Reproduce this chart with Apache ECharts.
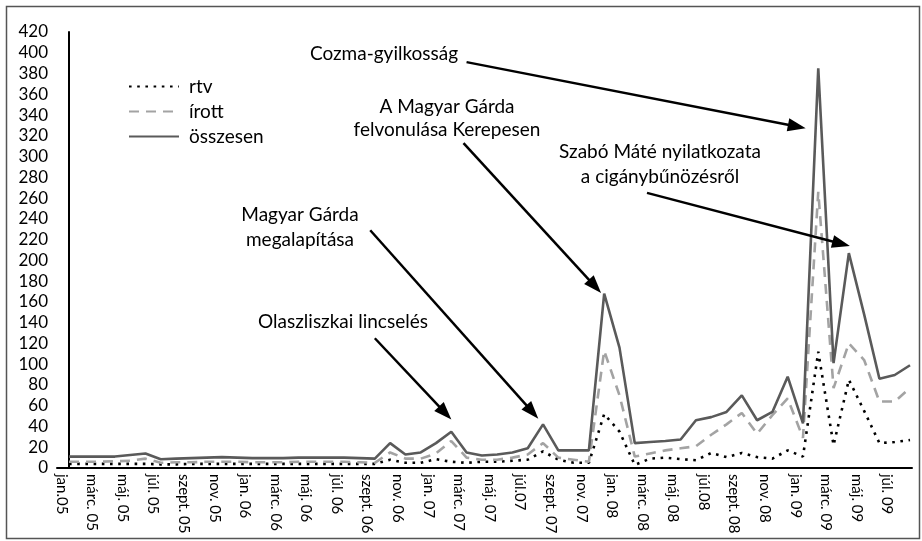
<!DOCTYPE html>
<html><head><meta charset="utf-8">
<script src="https://cdn.jsdelivr.net/npm/echarts@6/dist/echarts.min.js"></script>
<style>html,body{margin:0;padding:0;background:#fff}#c{width:922px;height:541px}</style>
</head><body><div id="c"></div>
<script>
const months = ['jan.05','febr.05','márc. 05','ápr.05','máj. 05','jún.05','júl. 05','aug.05','szept. 05','okt.05','nov. 05','dec.05',
'jan. 06','febr.06','márc. 06','ápr.06','máj. 06','jún.06','júl. 06','aug.06','szept. 06','okt.06','nov. 06','dec.06',
'jan. 07','febr.07','márc. 07','ápr.07','máj. 07','jún.07','júl.07','aug.07','szept. 07','okt.07','nov. 07','dec.07',
'jan. 08','febr.08','márc. 08','ápr.08','máj. 08','jún.08','júl.08','aug.08','szept. 08','okt.08','nov. 08','dec.08',
'jan. 09','febr.09','márc. 09','ápr.09','máj. 09','jún.09','júl. 09','aug.09'];
const rtv = [4,4,4,4,4,4,3.5,3.5,4,4,4,4,4,4,4,4,4,4,4,4,4,
  8,5,5,8.5,6,5,6,6,7,8,
  16,8,5,5,52,35,3,9,10,8.5,
  7.5,14.5,10.5,14.5,10.5,9,17,11,112,22,
  85,55,24,25,27];
const irott = [6,6,6,6.5,7,9,5,5.5,5.5,6,6,6,5.5,5.5,5.5,6,6,6,6,5.5,5,
  15,9,9,14,26,10,8,8,10,13,
  24,10,8,6,113,70,11,14,17,19,
  21,32,42,53,33,51,67,29,266,77,
  120,104,64,64,77];
const osszesen = [11,11,11,11,12.5,14,8.5,9,9.5,10,10.5,10,9.5,9.5,9.5,10,10,10,10,9.5,9,
  24,13,15,24,35,15,12,13,15,19,
  42,17,17,17,168,116,24,25,26,27.5,
  46,49,54,70,46,54,88,43,385,101,
  207,148,86,89.6,99];
const seriesNames = ['rtv','írott','összesen'];
const labelIdx = [];
for (let i = 0; i < months.length; i += 2) labelIdx.push(i);
// annotation arrows in data coordinates [monthIndex, value]
const arrows = [
  [[26.0,391],[47.6,329]],
  [[37.8,265],[50.5,216]],
  [[25.8,313],[34.4,175]],
  [[19.7,229],[30.3,54]],
  [[20.0,125],[24.6,53]]
];
const notes = [
  {t:'Cozma-gyilkosság', x:384, y:54},
  {t:'A Magyar Gárda', x:447, y:107},
  {t:'felvonulása Kerepesen', x:447, y:130},
  {t:'Szabó Máté nyilatkozata', x:660, y:152},
  {t:'a cigánybűnözésről', x:660, y:177},
  {t:'Magyar Gárda', x:300, y:215},
  {t:'megalapítása', x:300, y:240},
  {t:'Olaszliszkai lincselés', x:343, y:322}
];
const FONT = 'Lato, "Open Sans", sans-serif';
const toXY = arr => arr.map((v,i)=>[i,v]);
const chart = echarts.init(document.getElementById('c'), null, {renderer:'canvas'});
chart.setOption({
  animation:false,
  textStyle:{fontFamily:FONT},
  grid:{left:57,right:10,top:32,bottom:73,containLabel:false},
  legend:{
    orient:'vertical', left:123, top:72, itemWidth:50, itemHeight:14, itemGap:6,
    data:seriesNames,
    itemStyle:{opacity:0},
    textStyle:{fontFamily:FONT,fontSize:19,color:'#000',padding:[0,0,0,5]}
  },
  xAxis:{
    type:'value', min:-0.785, max:55.13,
    axisLine:{show:true,lineStyle:{color:'#000',width:2}},
    axisTick:{show:false},
    splitLine:{show:false},
    axisLabel:{
      customValues:labelIdx, rotate:-90, margin:6, verticalAlign:'top',
      fontFamily:FONT, fontSize:15, color:'#000',
      formatter:v=>months[Math.round(v)]||''
    }
  },
  yAxis:{
    type:'value', min:0, max:420, interval:20,
    axisLine:{show:true,lineStyle:{color:'#000',width:2}},
    axisTick:{show:false},
    splitLine:{show:false},
    axisLabel:{fontFamily:FONT,fontSize:17,color:'#000',margin:9}
  },
  series:[
    {name:'rtv', type:'line', data:toXY(rtv), symbol:'none',
     lineStyle:{color:'#000',width:2.6,type:[2.6,5.6],cap:'butt'}, itemStyle:{color:'#000'}},
    {name:'írott', type:'line', data:toXY(irott), symbol:'none',
     lineStyle:{color:'#a3a3a3',width:2.6,type:[10,7]}, itemStyle:{color:'#a3a3a3'}},
    {name:'összesen', type:'line', data:toXY(osszesen), symbol:'none',
     lineStyle:{color:'#5a5a5a',width:2.6}, itemStyle:{color:'#5a5a5a'},
     markLine:{
       silent:true, symbol:['none','triangle'], symbolSize:[13,18],
       label:{show:false},
       lineStyle:{color:'#000',width:2.5,type:'solid'},
       data:arrows.map(a=>[{coord:a[0]},{coord:a[1]}])
     }}
  ],
  graphic:[
    {type:'rect', left:4, top:4, shape:{width:913,height:532}, style:{fill:'none',stroke:'#555',lineWidth:1.5}, silent:true},
    ...notes.map(n=>({type:'text', x:n.x, y:n.y, style:{text:n.t, fontFamily:FONT, fontSize:19, fill:'#000', align:'center', verticalAlign:'middle'}, silent:true}))
  ]
});
</script></body></html>
